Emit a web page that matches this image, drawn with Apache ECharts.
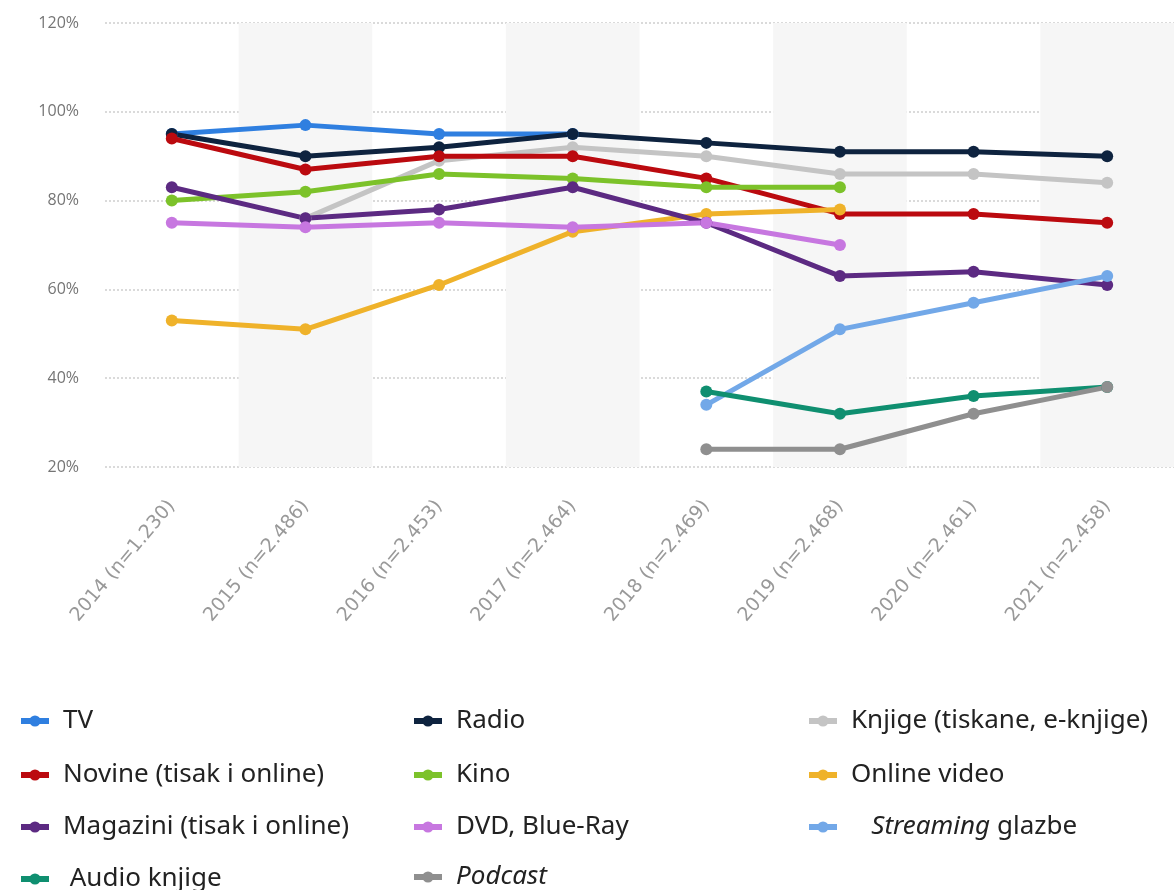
<!DOCTYPE html>
<html lang="hr">
<head>
    <meta charset="UTF-8">
    <title>Mediji</title>
    <script type="text/javascript" src="https://cdn.jsdelivr.net/npm/echarts@6/dist/echarts.min.js"></script>
    <style>
        html, body { margin: 0; padding: 0; background: #fff; }
    </style>
</head>
<body>

    <div id="chart" style="width:1174px;height:890px;"></div>

<script type="text/javascript">

    // godine / kategorije
    var years = ['2014 (n=1.230)', '2015 (n=2.486)', '2016 (n=2.453)', '2017 (n=2.464)',
                 '2018 (n=2.469)', '2019 (n=2.468)', '2020 (n=2.461)', '2021 (n=2.458)'];
    var yTicks = [20, 40, 60, 80, 100, 120];

    // vrijednosti u %
    var tv        = [95, 97, 95, 95, null, null, null, null];
    var radio     = [95, 90, 92, 95, 93, 91, 91, 90];
    var knjige    = [null, 76, 89, 92, 90, 86, 86, 84];
    var novine    = [94, 87, 90, 90, 85, 77, 77, 75];
    var kino      = [80, 82, 86, 85, 83, 83, null, null];
    var onlineVid = [53, 51, 61, 73, 77, 78, null, null];
    var magazini  = [83, 76, 78, 83, 75, 63, 64, 61];
    var dvd       = [75, 74, 75, 74, 75, 70, null, null];
    var streaming = [null, null, null, null, 34, 51, 57, 63];
    var audio     = [null, null, null, null, 37, 32, 36, 38];
    var podcast   = [null, null, null, null, 24, 24, 32, 38];

    function line(name, data, color) {
        return {
            name: name,
            type: 'line',
            data: data,
            symbol: 'circle',
            symbolSize: 12,
            lineStyle: { width: 5, color: color },
            itemStyle: { color: color },
            emphasis: { disabled: true }
        };
    }

    var legendText = {
        fontFamily: 'Noto Sans',
        fontSize: 26,
        color: '#222',
        lineHeight: 30,
        padding: [0, 0, 0, 9],
        rich: {
            i: { fontFamily: 'Noto Sans', fontSize: 26, fontStyle: 'italic', color: '#222' }
        }
    };

    // jedna legenda po stavci, tako da stupci stoje kao na slici
    function legendItem(name, left, y) {
        return {
            left: left,
            top: y - 15,
            itemWidth: 28,
            itemHeight: 14,
            selectedMode: false,
            data: [name],
            lineStyle: { width: 6 },
            textStyle: legendText,
            formatter: function (n) {
                if (n === 'Podcast') return '{i|Podcast}';
                if (n === 'Streaming glazbe') return '   {i|Streaming} glazbe';
                if (n === 'Audio knjige') return ' Audio knjige';
                return n;
            }
        };
    }

    var dom = document.getElementById("chart");
    var myChart = echarts.init(dom);
    var option = {
        animation: false,
        grid: { left: 105, top: 23, width: 1096, height: 444 },
        xAxis: {
            type: 'category',
            data: years,
            boundaryGap: true,
            axisLine: { show: false },
            axisTick: { show: false },
            axisLabel: {
                rotate: 50,
                margin: 36,
                interval: 0,
                fontFamily: 'DejaVu Sans',
                fontSize: 19,
                color: '#999999'
            },
            splitLine: { show: false },
            splitArea: {
                show: true,
                interval: 0,
                areaStyle: { color: ['rgba(255,255,255,0)', '#f6f6f6'] }
            }
        },
        yAxis: {
            type: 'value',
            min: yTicks[0],
            max: yTicks[yTicks.length - 1],
            interval: 20,
            axisLine: { show: false },
            axisTick: { show: false },
            axisLabel: {
                margin: 26,
                fontFamily: 'Open Sans',
                fontSize: 16,
                color: '#757575',
                formatter: '{value}%'
            },
            splitLine: {
                lineStyle: { color: '#dadada', type: 'dotted', width: 2 }
            }
        },
        legend: [
            legendItem('TV', 13, 716),
            legendItem('Novine (tisak i online)', 13, 770),
            legendItem('Magazini (tisak i online)', 13, 822),
            legendItem('Audio knjige', 13, 874),
            legendItem('Radio', 406, 716),
            legendItem('Kino', 406, 770),
            legendItem('DVD, Blue-Ray', 406, 822),
            legendItem('Podcast', 406, 872),
            legendItem('Knjige (tiskane, e-knjige)', 801, 716),
            legendItem('Online video', 801, 770),
            legendItem('Streaming glazbe', 801, 822)
        ],
        series: [
            line('TV', tv, '#2f7fe0'),
            line('Knjige (tiskane, e-knjige)', knjige, '#c4c4c4'),
            line('Radio', radio, '#0e233f'),
            line('Novine (tisak i online)', novine, '#bb0a0f'),
            line('Kino', kino, '#7cc22a'),
            line('Online video', onlineVid, '#efb22a'),
            line('Magazini (tisak i online)', magazini, '#5c2a82'),
            line('DVD, Blue-Ray', dvd, '#c777e0'),
            line('Streaming glazbe', streaming, '#72a8e8'),
            line('Audio knjige', audio, '#0f8f70'),
            line('Podcast', podcast, '#8f8f8f')
        ]
    };

    if (option && typeof option === "object") {
        myChart.setOption(option, true);
    }

</script>
</body>
</html>
